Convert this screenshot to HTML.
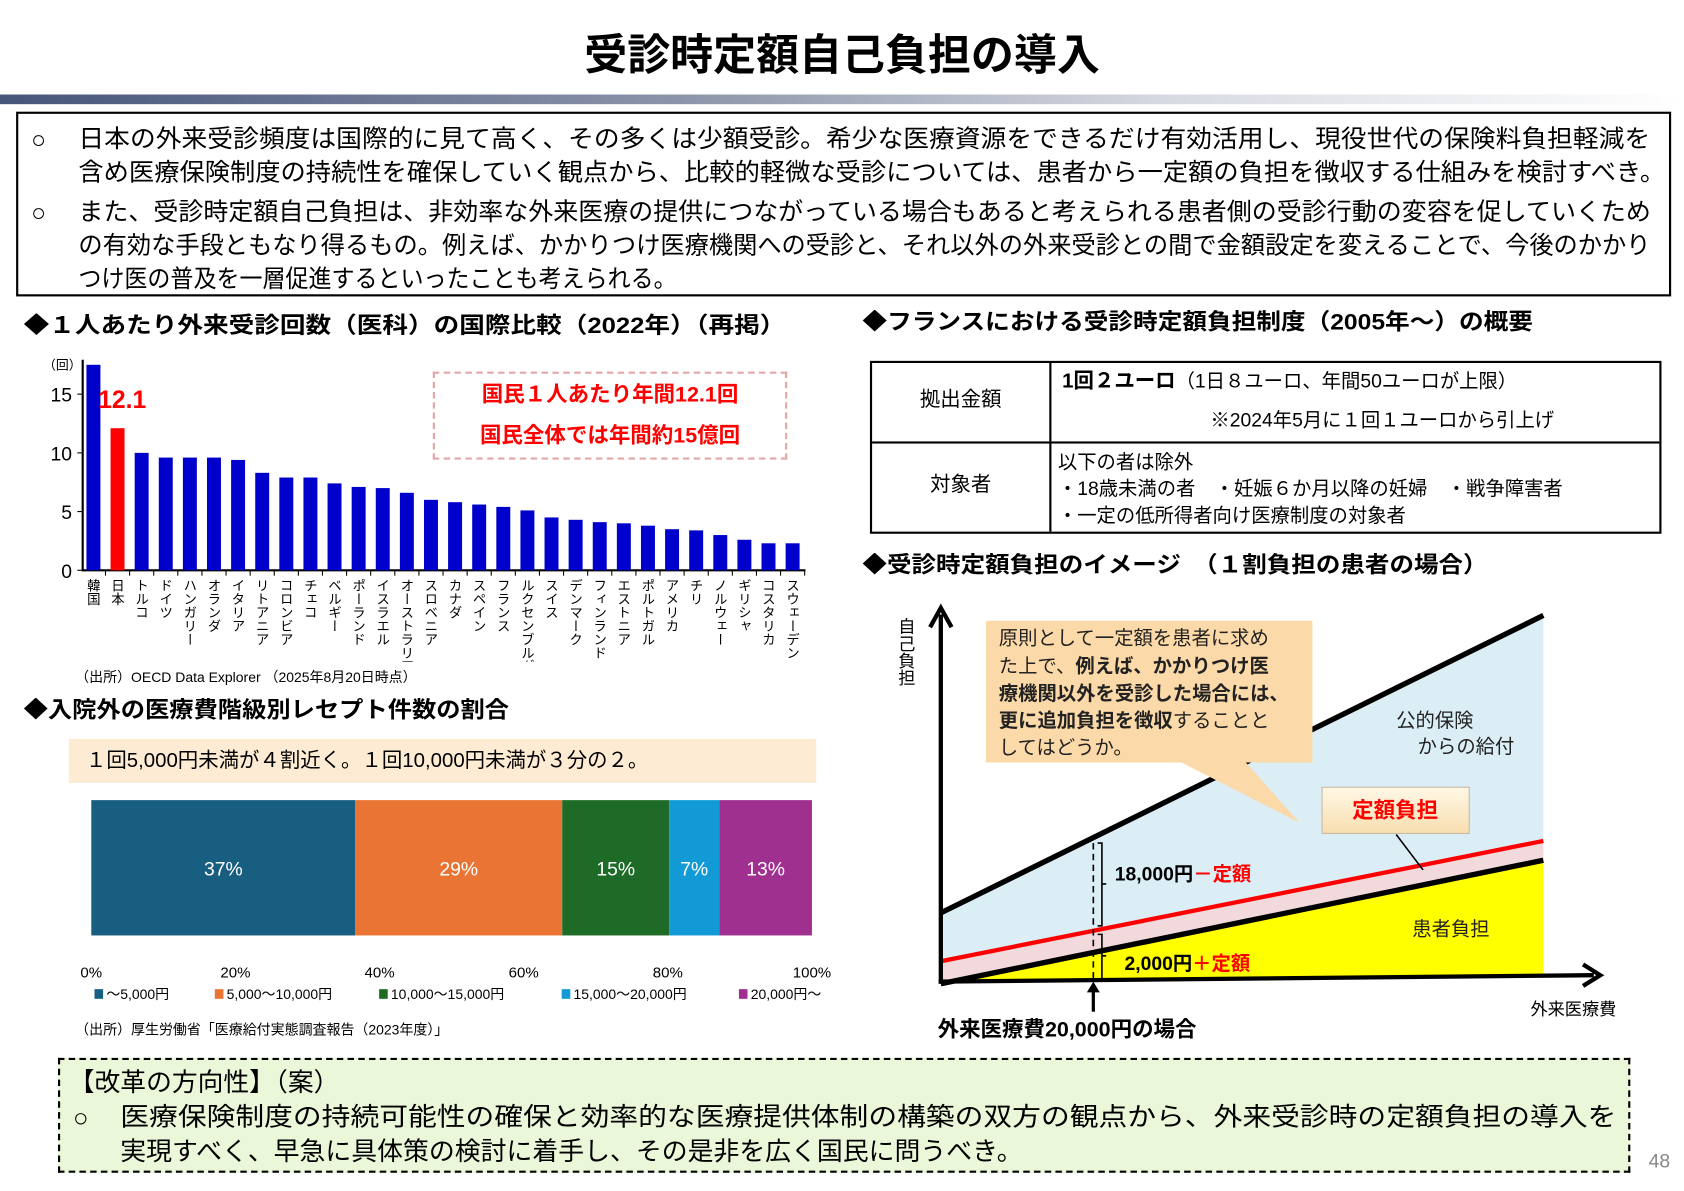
<!DOCTYPE html>
<html><head><meta charset="utf-8">
<style>
html,body{margin:0;padding:0;background:#fff;}
body{width:1684px;height:1191px;overflow:hidden;position:relative;}
#root{position:absolute;left:0;top:0;width:1568px;height:1109px;transform:scale(1.074);transform-origin:0 0;font-family:"Liberation Sans","Noto Sans CJK JP",sans-serif;color:#000;}
.a{position:absolute;white-space:nowrap;line-height:1;}
.b{font-weight:bold;}
.fit{transform-origin:0 0;}
</style></head>
<body>
<div id="root">
<div class="a b" style="left:0;width:1568px;text-align:center;top:32px;font-size:40px;">受診時定額自己負担の導入</div>
<div class="a" style="left:0;top:88px;width:1568px;height:9px;background:linear-gradient(90deg,#46557a 0%,#8a93a8 40%,#d8dbe2 70%,#fff 100%);"></div>

<div class="a" style="left:15px;top:104px;width:1537px;height:168px;border:2px solid #000;">
 <div class="a" style="left:12px;top:13px;font-size:23px;">○</div>
 <div class="a fit" data-w="1464" style="left:56px;top:12px;font-size:23px;">日本の外来受診頻度は国際的に見て高く、その多くは少額受診。希少な医療資源をできるだけ有効活用し、現役世代の保険料負担軽減を</div>
 <div class="a fit" data-w="1477" style="left:56px;top:43px;font-size:23px;">含め医療保険制度の持続性を確保していく観点から、比較的軽微な受診については、患者から一定額の負担を徴収する仕組みを検討すべき。</div>
 <div class="a" style="left:12px;top:81px;font-size:23px;">○</div>
 <div class="a fit" data-w="1464" style="left:56px;top:80px;font-size:23px;">また、受診時定額自己負担は、非効率な外来医療の提供につながっている場合もあると考えられる患者側の受診行動の変容を促していくため</div>
 <div class="a fit" data-w="1464" style="left:56px;top:111px;font-size:23px;">の有効な手段ともなり得るもの。例えば、かかりつけ医療機関への受診と、それ以外の外来受診との間で金額設定を変えることで、今後のかかり</div>
 <div class="a fit" data-w="557" style="left:56px;top:142px;font-size:23px;">つけ医の普及を一層促進するといったことも考えられる。</div>
</div>

<div class="a b fit" data-w="709" style="left:22px;top:293px;font-size:21px;">◆１人あたり外来受診回数（医科）の国際比較（2022年）（再掲）</div>
<svg class="a" id="barsvg" style="left:0;top:320px;" width="780" height="296"></svg>
<div class="a" style="left:403px;top:346px;width:326px;height:78px;border:2px dashed #e4a7a7;">
 <div class="a b" style="left:0;width:326px;text-align:center;top:1px;font-size:20px;color:#f00;line-height:38px;">国民１人あたり年間12.1回<br>国民全体では年間約15億回</div>
</div>
<div class="a" style="left:70px;top:624px;font-size:13px;">（出所）OECD Data Explorer （2025年8月20日時点）</div>

<div class="a b fit" data-w="452" style="left:22px;top:651px;font-size:21px;">◆入院外の医療費階級別レセプト件数の割合</div>
<div class="a" style="left:64px;top:688px;width:696px;height:41px;background:#fdebd3;">
 <div class="a" style="left:16px;top:11px;font-size:19px;">１回5,000円未満が４割近く。１回10,000円未満が３分の２。</div>
</div>
<svg class="a" id="stacksvg" style="left:60px;top:740px;" width="740" height="200"></svg>
<div class="a" style="left:70px;top:952px;font-size:13px;">（出所）厚生労働省「医療給付実態調査報告（2023年度）」</div>

<div class="a b fit" data-w="624" style="left:803px;top:290px;font-size:21px;">◆フランスにおける受診時定額負担制度（2005年～）の概要</div>
<div class="a" style="left:810px;top:336px;width:733px;height:157px;border:2px solid #000;">
 <div class="a" style="left:165px;top:0;width:2px;height:157px;background:#000;"></div>
 <div class="a" style="left:0;top:73px;width:733px;height:2px;background:#000;"></div>
 <div class="a" style="left:0;width:165px;text-align:center;top:25px;font-size:19px;">拠出金額</div>
 <div class="a" style="left:0;width:165px;text-align:center;top:104px;font-size:19px;">対象者</div>
 <div class="a" style="left:177px;top:8px;font-size:18px;"><span class="b" style="font-size:19px">1回２ユーロ</span>（1日８ユーロ、年間50ユーロが上限）</div>
 <div class="a" style="left:315px;top:44px;font-size:18px;">※2024年5月に１回１ユーロから引上げ</div>
 <div class="a" style="left:173px;top:80px;font-size:18px;line-height:25px;">以下の者は除外<br>・18歳未満の者　・妊娠６か月以降の妊婦　・戦争障害者<br>・一定の低所得者向け医療制度の対象者</div>
</div>

<div class="a b fit" data-w="582" style="left:803px;top:516px;font-size:21px;">◆受診時定額負担のイメージ　（１割負担の患者の場合）</div>
<svg class="a" style="left:820px;top:550px;" width="720" height="430">
 <polygon points="56,300 617,23 617,360 56,364" fill="#dbeef6"/>
 <polygon points="56,345 617,233 617,250 56,365" fill="#f2d9dc"/>
 <polygon points="56,365 617,250 617,360" fill="#ffff00"/>
 <line x1="56" y1="300" x2="617" y2="23" stroke="#000" stroke-width="5"/>
 <line x1="56" y1="345" x2="617" y2="233" stroke="#f00" stroke-width="4"/>
 <line x1="56" y1="366" x2="617" y2="251" stroke="#000" stroke-width="5"/>
 <line x1="56" y1="366" x2="56" y2="22" stroke="#000" stroke-width="4"/>
 <polyline points="46,34 56,16 66,34" fill="none" stroke="#000" stroke-width="4"/>
 <line x1="54" y1="364" x2="664" y2="358" stroke="#000" stroke-width="4"/>
 <polyline points="654,348 670,358 654,368" fill="none" stroke="#000" stroke-width="4"/>
 <polygon points="98,28 402,28 402,160 340,160 390,216 280,160 98,160" fill="#fcd9a8"/>
 <text x="110" y="50" font-size="18" fill="#222">原則として一定額を患者に求め</text>
 <text x="110" y="76" font-size="18" fill="#222">た上で、<tspan font-weight="bold">例えば、かかりつけ医</tspan></text>
 <text x="110" y="102" font-size="18" font-weight="bold" fill="#222">療機関以外を受診した場合には、</text>
 <text x="110" y="127" font-size="18" fill="#222"><tspan font-weight="bold">更に追加負担を徴収</tspan>することと</text>
 <text x="110" y="152" font-size="18" fill="#222">してはどうか。</text>
 <text x="480" y="127" font-size="18" fill="#222">公的保険</text>
 <text x="500" y="151" font-size="18" fill="#222">からの給付</text>
 <text x="495" y="321" font-size="18" fill="#222">患者負担</text>
 <defs><linearGradient id="cg" x1="0" y1="0" x2="0" y2="1"><stop offset="0" stop-color="#fff8e6"/><stop offset="1" stop-color="#f8deb0"/></linearGradient></defs>
 <rect x="411" y="183" width="137" height="43" fill="url(#cg)" stroke="#c8b8a0"/>
 <text x="479" y="211" font-size="20" font-weight="bold" fill="#f00" text-anchor="middle">定額負担</text>
 <line x1="480" y1="227" x2="505" y2="260" stroke="#000" stroke-width="1.5"/>
 <line x1="198" y1="235" x2="198" y2="362" stroke="#000" stroke-width="1.5" stroke-dasharray="6,4"/>
 <path d="M202,235 h4 v38 h4 M206,273 v39 h-4" fill="none" stroke="#000" stroke-width="1.5"/>
 <path d="M202,320 h4 v20 h4 M206,340 v22 h-4" fill="none" stroke="#000" stroke-width="1.5"/>
 <text x="218" y="270" font-size="18" font-weight="bold">18,000円<tspan fill="#f00">－定額</tspan></text>
 <text x="227" y="353" font-size="18" font-weight="bold">2,000円<tspan fill="#f00">＋定額</tspan></text>
 <line x1="198" y1="392" x2="198" y2="372" stroke="#000" stroke-width="3"/>
 <polygon points="192,374 198,364 204,374" fill="#000"/>
 <text x="53" y="415" font-size="20" font-weight="bold">外来医療費20,000円の場合</text>
 <text x="605" y="395" font-size="16">外来医療費</text>
 <text x="23" y="25" font-size="16" style="writing-mode:vertical-rl">自己負担</text>
</svg>

<div class="a" style="left:54px;top:985px;width:1460px;height:103px;border:2px dashed #000;background:#ebf7d9;">
 <div class="a" style="left:8px;top:10px;font-size:24px;">【改革の方向性】（案）</div>
 <div class="a" style="left:12px;top:43px;font-size:24px;">○</div>
 <div class="a fit" data-w="1393" style="left:56px;top:42px;font-size:24px;">医療保険制度の持続可能性の確保と効率的な医療提供体制の構築の双方の観点から、外来受診時の定額負担の導入を</div>
 <div class="a fit" data-w="840" style="left:56px;top:74px;font-size:24px;">実現すべく、早急に具体策の検討に着手し、その是非を広く国民に問うべき。</div>
</div>
<div class="a" style="left:1535px;top:1072px;font-size:18px;color:#888;">48</div>
</div>

<script>
const countries = ["韓国","日本","トルコ","ドイツ","ハンガリー","オランダ","イタリア","リトアニア","コロンビア","チェコ","ベルギー","ポーランド","イスラエル","オーストラリア","スロベニア","カナダ","スペイン","フランス","ルクセンブルグ","スイス","デンマーク","フィンランド","エストニア","ポルトガル","アメリカ","チリ","ノルウェー","ギリシャ","コスタリカ","スウェーデン"];
const visits = [17.5,12.1,10.0,9.6,9.6,9.6,9.4,8.3,7.9,7.9,7.4,7.1,7.0,6.6,6.0,5.8,5.6,5.4,5.1,4.5,4.3,4.1,4.0,3.8,3.5,3.4,3.0,2.6,2.3,2.3];
const yTicks = [0,5,10,15];
const shareLabels = ["～5,000円","5,000～10,000円","10,000～15,000円","15,000～20,000円","20,000円～"];
const shares = [37,29,15,7,13];
const xTicks = [0,20,40,60,80,100];

document.querySelectorAll('.fit').forEach(el=>{
 const w=+el.getAttribute('data-w'); const cw=el.offsetWidth;
 if(cw>0) el.style.transform='scaleX('+(w/cw)+')';
});

const NS="http://www.w3.org/2000/svg";
function mk(p,tag,at,txt){const e=document.createElementNS(NS,tag);for(const k in at)e.setAttribute(k,at[k]);if(txt!==undefined)e.textContent=txt;p.appendChild(e);return e;}

(function(){
 const s=document.getElementById('barsvg');
 const x0=77, base=211, top=15, H=164/15;
 const yS=v=>base-v*H;
 const step=(738-87)/(countries.length-1);
 const xS=i=>87+i*step;
 mk(s,'line',{x1:x0,y1:base,x2:750,y2:base,stroke:'#000','stroke-width':2});
 mk(s,'line',{x1:x0,y1:base+1,x2:x0,y2:top,stroke:'#000','stroke-width':2});
 mk(s,'text',{x:40,y:24,'font-size':12},'（回）');
 yTicks.forEach(t=>{
  mk(s,'line',{x1:x0-5,y1:yS(t),x2:x0,y2:yS(t),stroke:'#000'});
  const tl=mk(s,'text',{x:x0-10,y:yS(t)+7,'font-size':18,'text-anchor':'end'},String(t));
  
  
 });
 countries.forEach((c,i)=>{
  const r=mk(s,'rect',{x:xS(i)-6.5,y:yS(visits[i]),width:13,height:visits[i]*H,fill:i===1?'#ff0000':'#0000cc'});
  
  
  mk(s,'line',{x1:xS(i)+step/2,y1:base,x2:xS(i)+step/2,y2:base+5,stroke:'#000'});
  const t=mk(s,'text',{x:xS(i)-1,y:base+8,'font-size':12.5,style:'writing-mode:vertical-rl'},c);
  
  
 });
 const jl=mk(s,'text',{x:xS(1)-18,y:yS(visits[1])-19,'font-size':23,'font-weight':'bold',fill:'#f00'},visits[1].toFixed(1));
 
 
})();

(function(){
 const s=document.getElementById('stacksvg');
 const colors=['#175e80','#e97434','#1e6b28','#129ad6','#a0308f'];
 const L=25, W=671, top=5, h=126;
 const xS=p=>L+p/101*W;
 let acc=0;
 shares.forEach((v,i)=>{
  const r=mk(s,'rect',{x:xS(acc),y:top,width:xS(acc+v)-xS(acc),height:h,fill:colors[i]});
  
  
  mk(s,'text',{x:(xS(acc)+xS(acc+v))/2,y:top+h/2+7,'font-size':18,fill:'#fff','text-anchor':'middle'},v+'%');
  acc+=v;
 });
 xTicks.forEach(t=>{
  const tl=mk(s,'text',{x:L+t/100*W,y:170,'font-size':14,'text-anchor':'middle'},t+'%');
  
  
 });
 const lx=[28,140,293,463,628];
 shareLabels.forEach((l,i)=>{
  const g=mk(s,'g',{});
  
  
  mk(g,'rect',{x:lx[i],y:181,width:8,height:9,fill:colors[i]});
  mk(g,'text',{x:lx[i]+11,y:190,'font-size':13},l);
 });
})();
</script>
</body></html>
